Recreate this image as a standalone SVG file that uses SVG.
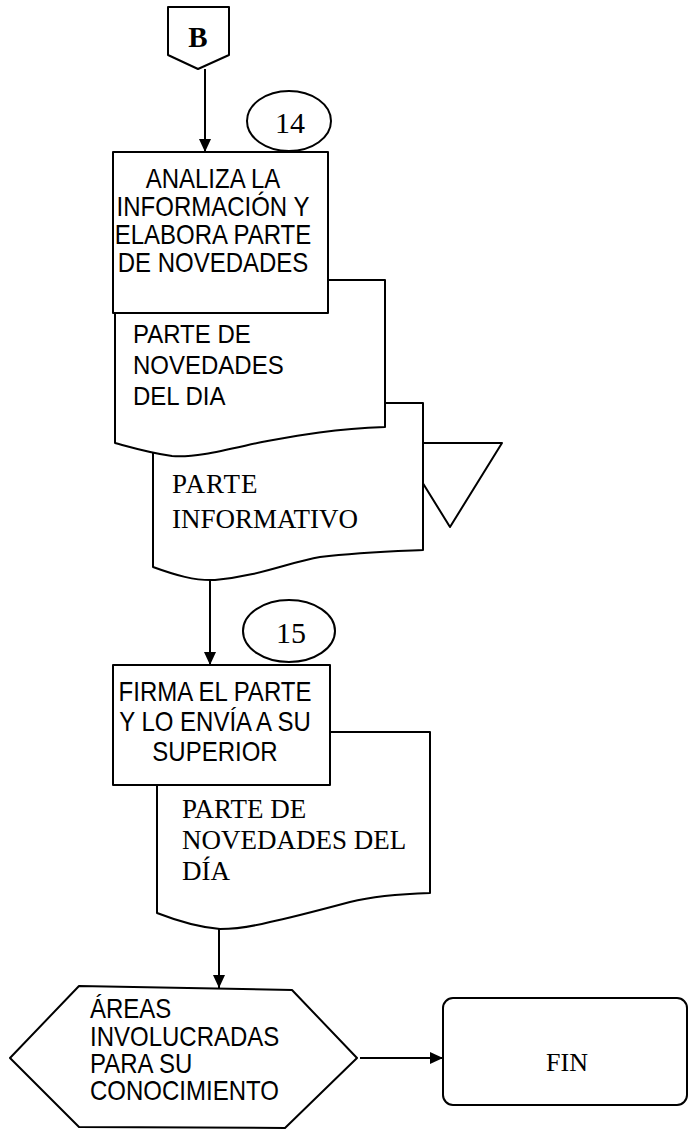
<svg xmlns="http://www.w3.org/2000/svg" width="690" height="1133" viewBox="0 0 690 1133">
<defs>
<marker id="ah" markerWidth="14" markerHeight="14" refX="13" refY="7" orient="auto" markerUnits="userSpaceOnUse">
<path d="M0,1 L13,7 L0,13 Z" fill="#000"/>
</marker>
<style>
.s{fill:#fff;stroke:#000;stroke-width:2;stroke-linejoin:round}
.c{fill:none;stroke:#000;stroke-width:2;marker-end:url(#ah)}
.a{font-family:"Liberation Sans",Arial,sans-serif;font-size:24px;fill:#000}
.m{text-anchor:middle}
.t{font-family:"Liberation Serif","Times New Roman",serif;fill:#000}
</style>
</defs>
<rect width="690" height="1133" fill="#fff"/>
<g id="connectors">
<line class="c" x1="205" y1="69" x2="205" y2="152"/>
<line class="c" x1="210" y1="580" x2="210" y2="665"/>
<line class="c" x1="219" y1="929" x2="219" y2="988"/>
<line class="c" x1="360" y1="1058" x2="443" y2="1058"/>
</g>
<g id="connB">
<path class="s" d="M168,7 H229 V55 L198,69 L168,55 Z"/>
<text class="t" x="198" y="47" font-size="29" font-weight="bold" text-anchor="middle">B</text>
</g>
<g id="num14">
<ellipse class="s" cx="289" cy="121" rx="42" ry="30"/>
<text class="t" x="290" y="133" font-size="30" text-anchor="middle">14</text>
</g>
<g id="triangle">
<path class="s" d="M398,443 H502 L450,527 Z"/>
</g>
<g id="doc2">
<path class="s" d="M153,403 H423 V550 C400,551 360,552 320,557 C290,562 260,576 215,580 C195,581 175,575 153,567 Z"/>
<text class="t" font-size="27"><tspan x="172" y="493" letter-spacing="1">PARTE</tspan><tspan x="172" y="528">INFORMATIVO</tspan></text>
</g>
<g id="doc1">
<path class="s" d="M115,280 H385 V427 C330,429 295,436 262,442 C225,450 195,458 172,456 C150,453 130,447 115,443 Z"/>
<text class="a" font-size="29" transform="translate(133,343) scale(1,1.1)">PARTE DE</text>
<text class="a" font-size="29" transform="translate(133,374) scale(1,1.1)">NOVEDADES</text>
<text class="a" font-size="29" transform="translate(133,405) scale(1,1.1)">DEL DIA</text>
</g>
<g id="box1">
<rect class="s" x="113" y="152" width="215" height="161"/>
<text class="a m" transform="translate(213,188) scale(1,1.12)">ANALIZA LA</text>
<text class="a m" transform="translate(213,216) scale(1,1.12)">INFORMACIÓN Y</text>
<text class="a m" transform="translate(213,244) scale(1,1.12)">ELABORA PARTE</text>
<text class="a m" transform="translate(213,272) scale(1,1.12)">DE NOVEDADES</text>
</g>
<g id="num15">
<ellipse class="s" cx="289" cy="631" rx="46" ry="31"/>
<text class="t" x="291" y="643" font-size="30" text-anchor="middle">15</text>
</g>
<g id="doc3">
<path class="s" d="M157,732 H430 V893 C400,894 370,897 350,902 C320,910 290,918 270,922 C250,927 235,929 220,929 C195,927 175,920 157,913 Z"/>
<text class="t" font-size="27"><tspan x="182" y="818">PARTE DE</tspan><tspan x="182" y="849">NOVEDADES DEL</tspan><tspan x="182" y="880">DÍA</tspan></text>
</g>
<g id="box2">
<rect class="s" x="113" y="665" width="217" height="120"/>
<text class="a m" font-size="23" transform="translate(215,701) scale(1,1.12)">FIRMA EL PARTE</text>
<text class="a m" font-size="23" transform="translate(215,731) scale(1,1.12)">Y LO ENVÍA A SU</text>
<text class="a m" font-size="23" transform="translate(215,761) scale(1,1.12)">SUPERIOR</text>
</g>
<g id="hexagon">
<path class="s" d="M10,1058 L79,986 L292,990 L357,1058 L285,1128 L79,1127 Z"/>
<text class="a" font-size="22" transform="translate(90,1018) scale(1,1.15)">ÁREAS</text>
<text class="a" font-size="22" transform="translate(90,1046) scale(1,1.15)">INVOLUCRADAS</text>
<text class="a" font-size="22" transform="translate(90,1073) scale(1,1.15)">PARA SU</text>
<text class="a" font-size="22" transform="translate(90,1100) scale(1,1.15)">CONOCIMIENTO</text>
</g>
<g id="fin">
<rect class="s" x="443" y="998" width="244" height="107" rx="10"/>
<text class="t" x="567" y="1071" font-size="26" text-anchor="middle">FIN</text>
</g>
</svg>
